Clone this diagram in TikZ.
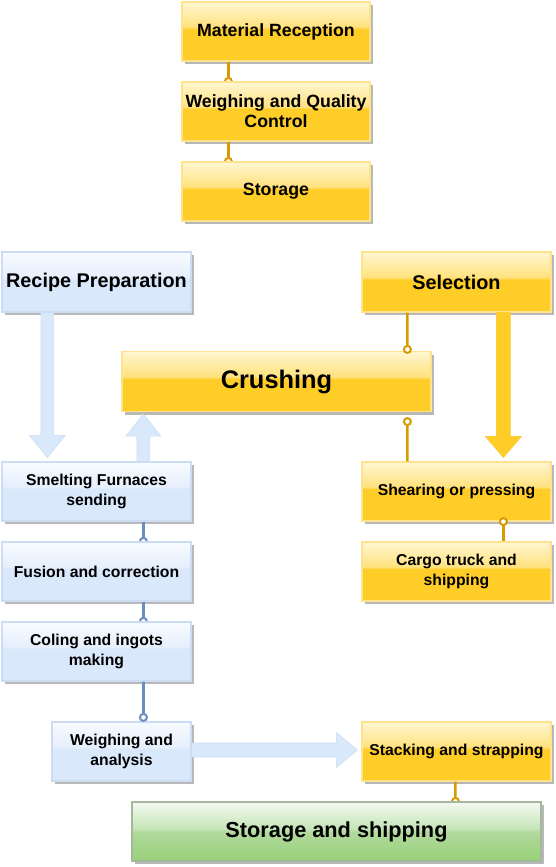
\documentclass[tikz,border=0pt]{standalone}
\usepackage{fontspec}
\setmainfont{Liberation Sans}
\usetikzlibrary{calc,shadows}
\definecolor{yB}{HTML}{FFCD28}
\definecolor{yG}{HTML}{FFE27E}
\definecolor{yT}{HTML}{FFF6D2}
\definecolor{yD}{HTML}{FFE38C}
\definecolor{gold}{HTML}{D79B00}
\definecolor{bB}{HTML}{DAE8FC}
\definecolor{bG}{HTML}{E6EFFC}
\definecolor{bT}{HTML}{F8FBFF}
\definecolor{bD}{HTML}{CCDDF3}
\definecolor{bL}{HTML}{6C8EBF}
\definecolor{gB}{HTML}{97D077}
\definecolor{gM}{HTML}{B2DA9E}
\definecolor{gG}{HTML}{C4E4B6}
\definecolor{gT}{HTML}{F4FAF2}
\definecolor{gD}{HTML}{A3B89C}
\pgfdeclareverticalshading{ygloss}{100bp}{color(0bp)=(yB); color(25bp)=(yB); color(52bp)=(yB); color(54bp)=(yG); color(75bp)=(yT); color(100bp)=(yT)}
\pgfdeclareverticalshading{bgloss}{100bp}{color(0bp)=(bB); color(25bp)=(bB); color(52bp)=(bB); color(54bp)=(bG); color(75bp)=(bT); color(100bp)=(bT)}
\pgfdeclareverticalshading{ggloss}{100bp}{color(0bp)=(gB); color(25bp)=(gB); color(50bp)=(gM); color(52bp)=(gG); color(75bp)=(gT); color(100bp)=(gT)}
\pgfdeclarelayer{bg}
\pgfsetlayers{bg,main}
\tikzset{
  box/.style={rectangle, inner sep=2bp, align=center, line width=1.2bp,
    drop shadow={shadow xshift=3bp, shadow yshift=-3bp, fill=black!28, opacity=1}},
  ybox/.style={box, draw=yD, shading=ygloss},
  bbox/.style={box, draw=bD, shading=bgloss},
  gbox/.style={box, draw=gD, shading=ggloss},
  fsmall/.style={font=\fontsize{15.8}{19.5}\selectfont\bfseries},
  fmid/.style={font=\fontsize{17.8}{20}\selectfont\bfseries},
  flarge/.style={font=\fontsize{19.9}{22}\selectfont\bfseries},
  fxl/.style={font=\fontsize{21.8}{24}\selectfont\bfseries},
  fxxl/.style={font=\fontsize{25.5}{28}\selectfont\bfseries},
  gline/.style={draw=gold, line width=2.6bp},
  bline/.style={draw=bL, line width=2.8bp},
  gdot/.style={draw=gold, fill=white, line width=2bp},
  bdot/.style={draw=bL, fill=white, line width=2bp},
  barrow/.style={fill=bB, draw=bD, line width=0.6bp},
  yarrow/.style={fill=yB, draw=yB!90!orange, line width=0.6bp}
}
\begin{document}
\begin{tikzpicture}[x=1bp,y=-1bp]
\useasboundingbox (0,0) rectangle (556,867);
% top column
\node[ybox, fmid, minimum width=188bp, minimum height=59bp] (mr) at (276,31.5) {Material Reception};
\node[ybox, fmid, minimum width=188bp, minimum height=59bp] (wq) at (276,111.5) {Weighing and Quality\\Control};
\node[ybox, fmid, minimum width=188bp, minimum height=59bp] (so) at (276,191.5) {Storage};
% middle
\node[bbox, flarge, minimum width=189bp, minimum height=60bp] (rp) at (96.5,282) {Recipe Preparation};
\node[ybox, flarge, minimum width=189bp, minimum height=60bp] (sel) at (456.5,282) {Selection};
\node[ybox, fxxl, minimum width=309bp, minimum height=60bp] (cr) at (276.5,381.5) {Crushing};
\node[bbox, fsmall, minimum width=189bp, minimum height=59bp] (sm) at (96.5,491.5) {Smelting Furnaces\\sending};
\node[ybox, fsmall, minimum width=189bp, minimum height=59bp] (sh) at (456.5,491.5) {Shearing or pressing};
\node[bbox, fsmall, minimum width=189bp, minimum height=59bp] (fu) at (96.5,571.5) {Fusion and correction};
\node[ybox, fsmall, minimum width=189bp, minimum height=59bp] (ct) at (456.5,571.5) {Cargo truck and\\shipping};
\node[bbox, fsmall, minimum width=189bp, minimum height=59bp] (co) at (96.5,651.5) {Coling and ingots\\making};
\node[bbox, fsmall, minimum width=139bp, minimum height=59bp] (wa) at (121.5,751.5) {Weighing and\\analysis};
\node[ybox, fsmall, minimum width=189bp, minimum height=59bp] (st) at (456.5,751.5) {Stacking and strapping};
\node[gbox, fxl, minimum width=409bp, minimum height=59bp] (ss) at (336.5,831.5) {Storage and shipping};

% half-hidden end markers (behind boxes)
\coordinate (m1) at ($(wq.north west)+(47,0)$);
\coordinate (m2) at ($(so.north west)+(47,0)$);
\coordinate (m3) at ($(fu.north west)+(142,0)$);
\coordinate (m4) at ($(co.north west)+(142,0)$);
\coordinate (m5) at ($(ss.north west)+(324,0)$);
\begin{pgfonlayer}{bg}
\draw[gdot] (m1) circle (3.5bp);
\draw[gdot] (m2) circle (3.5bp);
\draw[bdot] (m3) circle (3.5bp);
\draw[bdot] (m4) circle (3.5bp);
\draw[gdot] (m5) circle (3.5bp);
\end{pgfonlayer}
\draw[gline] ($(mr.south west)+(47,0)$) -- ($(m1)+(0,-3.5)$);
\draw[gline] ($(wq.south west)+(47,0)$) -- ($(m2)+(0,-3.5)$);
\draw[bline] ($(sm.south west)+(142,0)$) -- ($(m3)+(0,-3.5)$);
\draw[bline] ($(fu.south west)+(142,0)$) -- ($(m4)+(0,-3.5)$);
\draw[gline] ($(st.south west)+(94,0)$) -- ($(m5)+(0,-3.5)$);

% connectors with full circle markers
\coordinate (d1) at ($(cr.north west)+(286,-1.5)$);
\coordinate (d2) at ($(cr.south west)+(286,9.5)$);
\coordinate (d3) at ($(sh.south west)+(142,0)$);
\coordinate (d4) at ($(wa.north west)+(92,-4)$);
\draw[gline] ($(sel.south west)+(46,0)$) -- ($(d1)+(0,-3.5)$);
\draw[gline] ($(sh.north west)+(46,0)$) -- ($(d2)+(0,3.5)$);
\draw[gline] ($(ct.north west)+(142,0)$) -- ($(d3)+(0,3.5)$);
\draw[bline] ($(co.south west)+(142,0)$) -- ($(d4)+(0,-3.5)$);
\draw[gdot] (d1) circle (3.5bp);
\draw[gdot] (d2) circle (3.5bp);
\draw[gdot] (d3) circle (3.5bp);
\draw[bdot] (d4) circle (3.5bp);

% block arrows
\path[barrow] let \p1=($(rp.south west)+(46,0)$), \p2=($(sm.north west)+(46,-4)$) in
  (\x1-6.5bp,\y1) -- (\x1-6.5bp,\y2+22bp) -- (\x1-18bp,\y2+22bp) -- (\x2,\y2)
  -- (\x1+18bp,\y2+22bp) -- (\x1+6.5bp,\y2+22bp) -- (\x1+6.5bp,\y1) -- cycle;
\path[barrow] let \p1=($(sm.north west)+(142,0)$), \p2=($(cr.south west)+(22,2)$) in
  (\x1-6.5bp,\y1) -- (\x1-6.5bp,\y2-22bp) -- (\x1-17.5bp,\y2-22bp) -- (\x2,\y2)
  -- (\x1+17.5bp,\y2-22bp) -- (\x1+6.5bp,\y2-22bp) -- (\x1+6.5bp,\y1) -- cycle;
\path[yarrow] let \p1=($(sel.south west)+(142,0)$), \p2=($(sh.north west)+(142,-4)$) in
  (\x1-7bp,\y1) -- (\x1-7bp,\y2+21bp) -- (\x1-18bp,\y2+21bp) -- (\x2,\y2)
  -- (\x1+18bp,\y2+21bp) -- (\x1+7bp,\y2+21bp) -- (\x1+7bp,\y1) -- cycle;
\path[barrow] let \p1=($(wa.east)+(0,-1.5)$), \p2=($(st.west)+(-4,-1.5)$) in
  (\x1,\y1+7bp) -- (\x2-21bp,\y1+7bp) -- (\x2-21bp,\y1+17.5bp) -- (\x2,\y2)
  -- (\x2-21bp,\y1-17.5bp) -- (\x2-21bp,\y1-7bp) -- (\x1,\y1-7bp) -- cycle;
\end{tikzpicture}
\end{document}
